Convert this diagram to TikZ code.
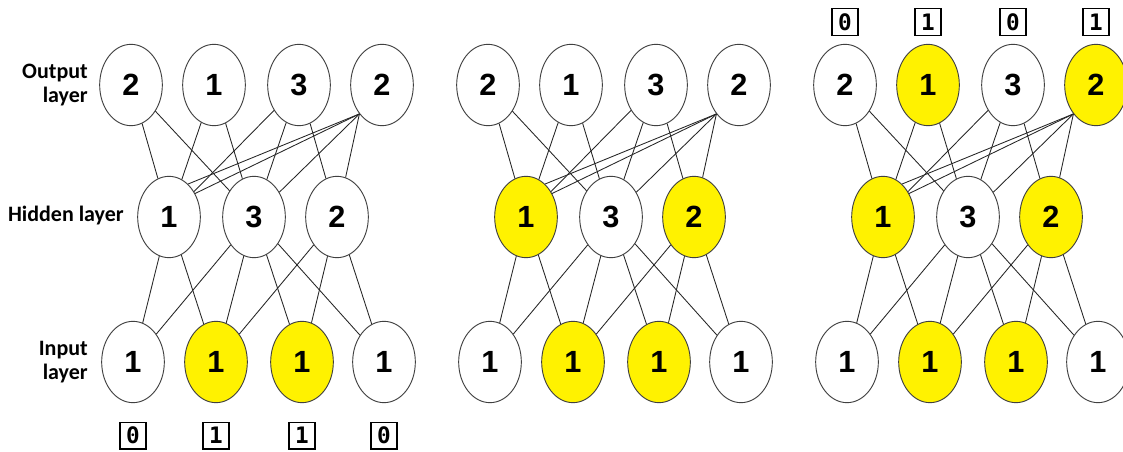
\documentclass[tikz,border=0pt]{standalone}
\usepackage{fontspec}
\setmainfont{Liberation Sans}
\newfontfamily\labfont{Carlito}
\newfontfamily\bitfont{DejaVu Sans Mono}
\usetikzlibrary{shapes.geometric,positioning}

\tikzset{
  neuron/.style={ellipse, draw=black!75, line width=0.7pt, minimum width=47pt,
    minimum height=61pt, inner sep=0pt, font=\fontsize{23}{23}\selectfont\bfseries},
  wire/.style={draw=black!85, line width=0.65pt},
  bitbox/.style={draw, line width=0.8pt, minimum width=19.5pt, minimum height=20pt,
    inner sep=0pt, font=\bitfont\bfseries\fontsize{17}{17}\selectfont},
  layername/.style={align=right, anchor=east, inner sep=0pt,
    font=\labfont\bfseries\fontsize{16.5}{17.5}\selectfont}
}

\begin{document}
\begin{tikzpicture}[x=0.75pt,y=-0.75pt]
  \useasboundingbox (0,0) rectangle (1123,452);
  \foreach \p/\ocol/\hcol in {0/{0,0,0,0}/{0,0,0}, 1/{0,0,0,0}/{1,0,1}, 2/{0,1,0,1}/{1,0,1}}{
    \begin{scope}[xshift={267.75*\p}]
      \foreach \on [count=\i] in \ocol {
        \pgfmathsetmacro\x{{131,214,299,382}[\i-1]}
        \pgfmathtruncatemacro\lab{{2,1,3,2}[\i-1]}
        \node[neuron, fill=yellow!\on00!white] (o\i-\p) at (\x,85) {\lab};
      }
      \foreach \on [count=\i] in \hcol {
        \pgfmathsetmacro\x{{169,254,337}[\i-1]}
        \pgfmathtruncatemacro\lab{{1,3,2}[\i-1]}
        \node[neuron, fill=yellow!\on00!white] (h\i-\p) at (\x,217) {\lab};
      }
      \foreach \on [count=\i] in {0,1,1,0} {
        \pgfmathsetmacro\x{{133,216,302,384}[\i-1]}
        \node[neuron, fill=yellow!\on00!white] (i\i-\p) at (\x,362) {1};
      }
      \foreach \a/\b in {o1/h1,o1/h2,o2/h1,o2/h2,o3/h1,o3/h2,o3/h3,
                         h1/i1,h1/i2,h2/i1,h2/i2,h2/i3,h2/i4,h3/i2,h3/i3,h3/i4}
        \path[wire] (\a-\p) -- (\b-\p);
      \foreach \b in {h2,h3}
        \path[wire] (o4-\p.232) -- (\b-\p);
      \path[wire] (o4-\p.232) -- (h1-\p.60);
      \path[wire] (o4-\p.232) -- (h1-\p.42);
    \end{scope}
  }

  \node[layername] (outname) at (88,85) {Output\\layer};
  \node[layername] (hidname) at (124,216) {Hidden layer};
  \node[layername] (inname) at (88,362) {Input\\layer};

  \foreach \v [count=\i] in {0,1,1,0}
    \node[bitbox, below=14pt of i\i-0] (b\i) {\v};
  \foreach \v [count=\i] in {0,1,0,1}
    \node[bitbox, above=6pt of o\i-2] (t\i) {\v};
\end{tikzpicture}
\end{document}
